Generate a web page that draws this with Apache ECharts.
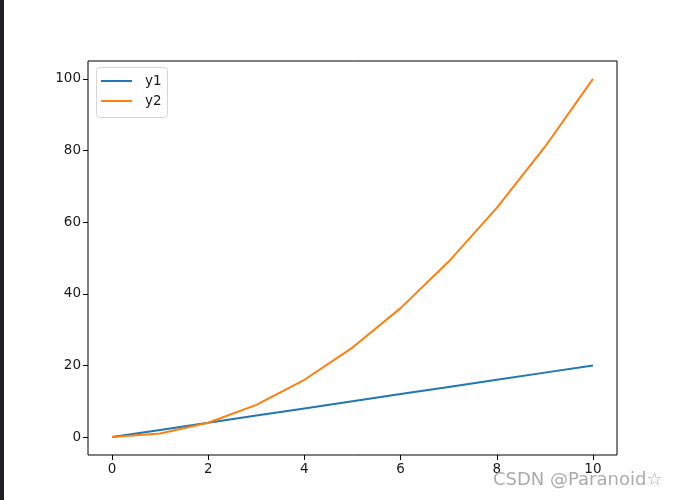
<!DOCTYPE html>
<html>
<head>
<meta charset="utf-8">
<script src="https://cdn.jsdelivr.net/npm/echarts@6/dist/echarts.min.js"></script>
<style>html,body{margin:0;padding:0;background:#fff}#c{width:683px;height:500px}</style>
</head>
<body>
<div id="c"></div>
<script>
const xValues = [0,1,2,3,4,5,6,7,8,9,10];
const y1 = [0,2,4,6,8,10,12,14,16,18,20];
const y2 = [0,1,4,9,16,25,36,49,64,81,100];
const xTicks = [0,2,4,6,8,10];
const yTicks = [0,20,40,60,80,100];
const seriesNames = ['y1','y2'];

const chart = echarts.init(document.getElementById('c'), null, {renderer:'canvas'});
const font = 'DejaVu Sans';
chart.setOption({
  animation:false,
  backgroundColor:'#fff',
  grid:{left:88, right:66, top:61, bottom:45, show:true, borderColor:'#000', borderWidth:1, backgroundColor:'transparent'},
  xAxis:{type:'value', min:-0.5, max:10.5,
    axisLine:{show:false, onZero:false}, splitLine:{show:false},
    axisTick:{show:true, inside:false, length:5, lineStyle:{color:'#000'}, customValues:xTicks},
    axisLabel:{color:'#1a1a1a', fontFamily:font, fontSize:13.5, margin:7, customValues:xTicks}},
  yAxis:{type:'value', min:-5, max:105,
    axisLine:{show:false, onZero:false}, splitLine:{show:false},
    axisTick:{show:true, inside:false, length:5, lineStyle:{color:'#000'}, customValues:yTicks},
    axisLabel:{color:'#1a1a1a', fontFamily:font, fontSize:13.5, margin:7, customValues:yTicks}},
  legend:{show:true, orient:'vertical', left:101, top:74, padding:0, itemWidth:31, itemHeight:2, itemGap:6,
    textStyle:{fontFamily:font, fontSize:13.5, color:'#1a1a1a', padding:[0,0,0,8]},
    data:seriesNames.map(n=>({name:n, icon:'rect'}))},
  graphic:[
    {type:'rect', left:0, top:0, shape:{width:4, height:500}, style:{fill:'#202124'}, silent:true},
    {type:'rect', left:96, top:67, shape:{x:0,y:0,width:71,height:50,r:3}, style:{fill:'rgba(255,255,255,0.8)', stroke:'#d5d5d5', lineWidth:1}, z:-1, silent:true},
    {type:'text', left:493, top:471, style:{text:'CSDN @Paranoid☆', fontFamily:font, fontSize:18, fill:'rgba(150,150,150,0.8)'}, z:100, silent:true}
  ],
  series:[
    {name:seriesNames[0], type:'line', data:xValues.map((x,i)=>[x,y1[i]]), showSymbol:false, lineStyle:{color:'#1f77b4', width:2}, itemStyle:{color:'#1f77b4'}},
    {name:seriesNames[1], type:'line', data:xValues.map((x,i)=>[x,y2[i]]), showSymbol:false, lineStyle:{color:'#ff7f0e', width:2}, itemStyle:{color:'#ff7f0e'}}
  ]
});
</script>
</body>
</html>
